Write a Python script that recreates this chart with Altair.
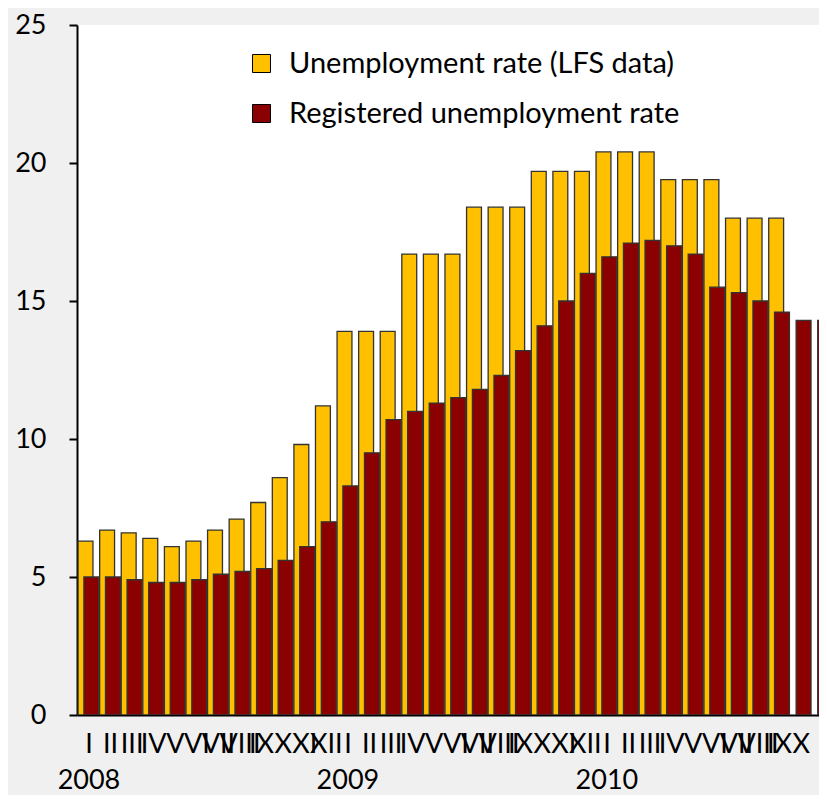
import altair as alt
import pandas as pd

# ---- data ----
months_roman = ["I", "II", "III", "IV", "V", "VI", "VII", "VIII", "IX", "X", "XI", "XII"]
years = ["2008", "2009", "2010"]

lfs_name = "Unemployment rate (LFS data)"
reg_name = "Registered unemployment rate"

# monthly index 0 = Jan 2008
lfs_rate = [6.3, 6.7, 6.6, 6.4, 6.1, 6.3, 6.7, 7.1, 7.7, 8.6, 9.8, 11.2,
            13.9, 13.9, 13.9, 16.7, 16.7, 16.7, 18.4, 18.4, 18.4, 19.7, 19.7, 19.7,
            20.4, 20.4, 20.4, 19.4, 19.4, 19.4, 18.0, 18.0, 18.0, None, None]
registered_rate = [5.0, 5.0, 4.9, 4.8, 4.8, 4.9, 5.1, 5.2, 5.3, 5.6, 6.1, 7.0,
                   8.3, 9.5, 10.7, 11.0, 11.3, 11.5, 11.8, 12.3, 13.2, 14.1, 15.0, 16.0,
                   16.6, 17.1, 17.2, 17.0, 16.7, 15.5, 15.3, 15.0, 14.6, 14.3, 14.3]

rows = []
for i, v in enumerate(lfs_rate):
    if v is not None:
        rows.append({"idx": i, "series": lfs_name, "value": v, "order": 0})
for i, v in enumerate(registered_rate):
    if v is not None:
        rows.append({"idx": i, "series": reg_name, "value": v, "order": 1})
df = pd.DataFrame(rows)

FONT = "Lato"
YELLOW = "#FFC000"
DARKRED = "#8B0000"

roman_js = "[" + ",".join("'%s'" % m for m in months_roman) + "]"
years_js = "[" + ",".join("'%s'" % y for y in years) + "]"
label_expr = (
    "datum.value % 12 == 0 ? [" + roman_js + "[datum.value % 12], " + years_js +
    "[floor(datum.value / 12)]] : " + roman_js + "[datum.value % 12]"
)

bars = alt.Chart(df).transform_calculate(
    x0="datum.series == '%s' ? datum.idx - 0.48 : datum.idx - 0.21" % lfs_name,
    x1="datum.series == '%s' ? datum.idx + 0.21 : datum.idx + 0.48" % lfs_name,
).mark_bar(clip=True, stroke="#333333", strokeWidth=1.3).encode(
    x=alt.X("x0:Q",
            scale=alt.Scale(domain=[-0.53, 33.85], nice=False, zero=False),
            axis=alt.Axis(values=list(range(35)), labelExpr=label_expr,
                          ticks=False, grid=False, labelOverlap=False,
                          labelBound=False, labelFlush=False,
                          labelPadding=16, labelLineHeight=36,
                          labelFont=FONT, labelFontSize=27, labelColor="black",
                          domainColor="black", domainWidth=2, title=None)),
    x2="x1:Q",
    y=alt.Y("value:Q",
            scale=alt.Scale(domain=[0, 25], nice=False),
            axis=alt.Axis(values=[0, 5, 10, 15, 20, 25], grid=False,
                          tickSize=8, tickWidth=2, tickColor="black",
                          domainColor="black", domainWidth=2,
                          labelPadding=23, labelFont=FONT, labelFontSize=27,
                          labelColor="black", labelBaseline="middle", title=None)),
    y2=alt.datum(0),
    color=alt.Color("series:N",
                    scale=alt.Scale(domain=[lfs_name, reg_name], range=[YELLOW, DARKRED]),
                    legend=alt.Legend(orient="none", legendX=170, legendY=24,
                                      title=None, symbolType="square", symbolSize=324,
                                      symbolStrokeColor="black", symbolStrokeWidth=1,
                                      labelFont=FONT, labelFontSize=29, labelColor="black",
                                      labelOffset=13, rowPadding=20, padding=0,
                                      labelLimit=600)),
    order=alt.Order("order:Q"),
)

chart = bars.properties(
    width=742, height=690,
    autosize=alt.AutoSizeParams(type="none"),
    padding={"left": 69, "top": 17, "right": 0, "bottom": 80},
    background="#f0f0f0",
).configure_view(fill="white", stroke=None)

chart.save("out.html", embed_options={"renderer": "svg", "actions": False})
